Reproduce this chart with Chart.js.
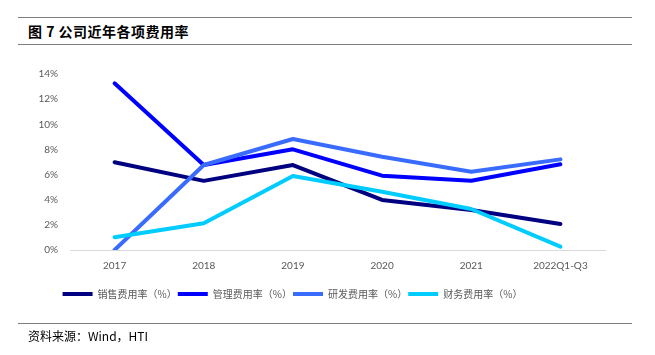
<!DOCTYPE html>
<html>
<head>
<meta charset="utf-8">
<script src="https://cdn.jsdelivr.net/npm/chart.js@4"></script>
<style>
  html, body { margin: 0; padding: 0; background: #fff; }
  body { width: 655px; height: 355px; position: relative; overflow: hidden; font-family: "Noto Sans CJK SC", sans-serif; }
  .rule { position: absolute; left: 18px; width: 614px; height: 0; border-top: 1.5px solid #7f7f7f; }
  #title { position: absolute; left: 28px; top: 21px; font-size: 14px; font-weight: bold; color: #000; line-height: 20px; letter-spacing: 0.5px; }
  #source { position: absolute; left: 28px; top: 327px; font-size: 12px; color: #000; line-height: 18px; }
  #wrap { position: absolute; left: 0; top: 0; width: 655px; height: 355px; }
</style>
</head>
<body>
<div class="rule" style="top:17px"></div>
<div id="title">图 7 公司近年各项费用率</div>
<div class="rule" style="top:44px"></div>
<div id="wrap"><canvas id="c"></canvas></div>
<div class="rule" style="top:323px"></div>
<div id="source">资料来源：Wind，HTI</div>
<script>
const categories = ["2017", "2018", "2019", "2020", "2021", "2022Q1-Q3"];
const seriesNames = ["销售费用率（%）", "管理费用率（%）", "研发费用率（%）", "财务费用率（%）"];
const salesRate = [6.98, 5.50, 6.76, 3.98, 3.18, 2.07];
const mgmtRate = [13.26, 6.76, 8.01, 5.91, 5.51, 6.82];
const rdRate = [0.00, 6.76, 8.83, 7.42, 6.23, 7.21];
const finRate = [1.01, 2.12, 5.89, 4.64, 3.26, 0.27];
const yTicks = [0, 2, 4, 6, 8, 10, 12, 14];

const colors = ["#000080", "#0000ff", "#3a6bff", "#00ccff"];
const values = [salesRate, mgmtRate, rdRate, finRate];
const orders = [4, 3, 2, 1];

const datasets = values.map((v, i) => ({
  label: seriesNames[i],
  data: v,
  borderColor: colors[i],
  backgroundColor: colors[i],
  borderWidth: 4,
  pointRadius: 0,
  pointHoverRadius: 0,
  tension: 0,
  borderCapStyle: 'round',
  borderJoinStyle: 'round',
  order: orders[i],
  fill: false
}));

const legendShift = {
  id: 'legendShift',
  afterLayout(chart) {
    if (chart.legend) { chart.legend.left -= 10; chart.legend.right -= 10; }
  }
};

new Chart(document.getElementById('c'), {
  type: 'line',
  data: { labels: categories, datasets },
  plugins: [legendShift],
  options: {
    responsive: true,
    maintainAspectRatio: false,
    animation: false,
    layout: { padding: { top: 74, left: 0, right: 50, bottom: 46 } },
    plugins: {
      tooltip: { enabled: false },
      legend: {
        position: 'bottom',
        labels: {
          boxWidth: 30,
          boxHeight: 4,
          padding: 1,
          color: '#595959',
          font: { family: '"Noto Sans CJK SC", sans-serif', size: 10 },
          generateLabels(chart) {
            return chart.data.datasets.map((d, i) => ({
              text: d.label,
              fillStyle: d.borderColor,
              strokeStyle: d.borderColor,
              lineWidth: 0,
              hidden: false,
              datasetIndex: i,
              fontColor: '#595959'
            }));
          }
        }
      }
    },
    scales: {
      x: {
        offset: true,
        grid: { display: false, drawTicks: false },
        border: { display: true, color: '#d9d9d9', width: 1 },
        ticks: { color: '#595959', font: { family: 'Lato', size: 10 }, padding: 10, maxRotation: 0 },
        afterFit(scale) { scale.height += 6; }
      },
      y: {
        min: 0,
        max: 14,
        afterBuildTicks(scale) { scale.ticks = yTicks.map(v => ({ value: v })); },
        afterFit(scale) { scale.width = 70; },
        grid: { display: false, drawTicks: false },
        border: { display: false },
        ticks: {
          color: '#595959',
          font: { family: 'Lato', size: 10 },
          padding: 12,
          callback: v => v + '%'
        }
      }
    }
  }
});
</script>
</body>
</html>
